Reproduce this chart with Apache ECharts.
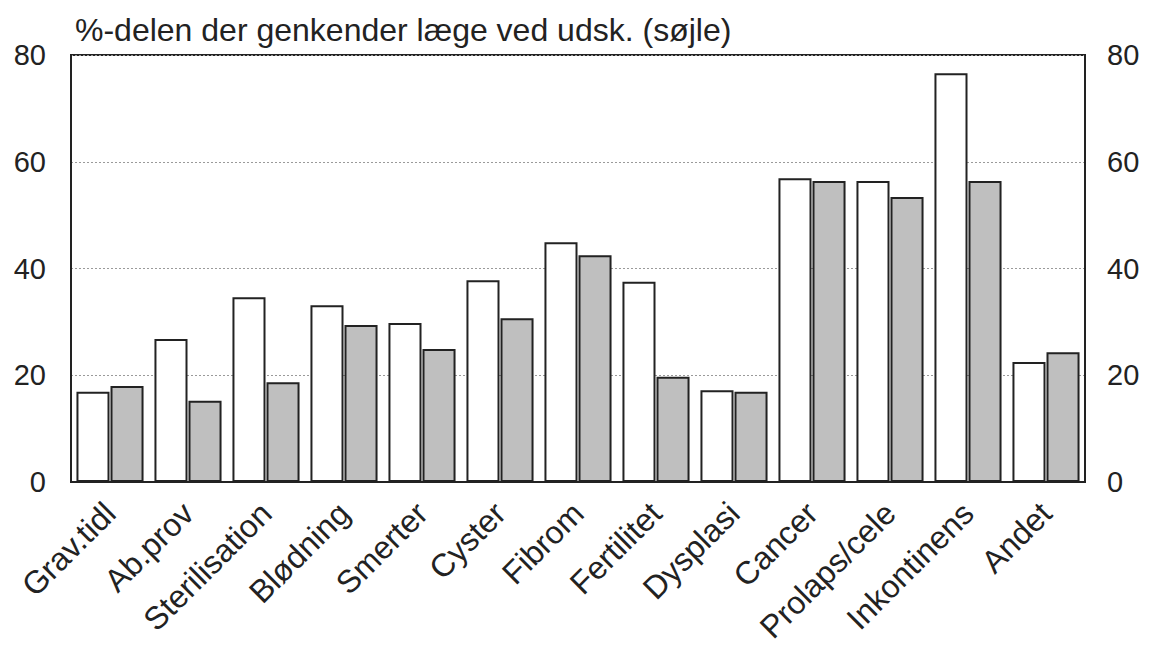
<!DOCTYPE html>
<html>
<head>
<meta charset="utf-8">
<script src="https://cdn.jsdelivr.net/npm/echarts@6/dist/echarts.min.js"></script>
<style>
  html, body { margin: 0; padding: 0; background: #ffffff; }
  #chart { width: 1150px; height: 652px; }
</style>
</head>
<body>
<div id="chart"></div>
<script>
var categories = ['Grav.tidl', 'Ab.prov', 'Sterilisation', 'Blødning', 'Smerter', 'Cyster', 'Fibrom', 'Fertilitet', 'Dysplasi', 'Cancer', 'Prolaps/cele', 'Inkontinens', 'Andet'];
var whiteValues = [16.9, 26.8, 34.6, 33.1, 29.8, 37.8, 44.9, 37.5, 17.2, 56.9, 56.4, 76.6, 22.5];
var grayValues = [18.0, 15.2, 18.7, 29.4, 24.9, 30.7, 42.5, 19.7, 16.9, 56.4, 53.4, 56.4, 24.3];
var yTicks = { min: 0, max: 80, interval: 20 };
var titleText = '%-delen der genkender læge ved udsk. (søjle)';

(function() {
  var ink = '#222222';
  var font = '"Liberation Sans", Arial, sans-serif';

  var chart = echarts.init(document.getElementById('chart'), null, { renderer: 'svg' });

  function valueAxis(pos) {
    return {
      type: 'value',
      position: pos,
      min: yTicks.min,
      max: yTicks.max,
      interval: yTicks.interval,
      axisLine: { show: true, lineStyle: { color: ink, width: 2 } },
      axisTick: { show: false },
      axisLabel: { color: ink, fontSize: 29, fontFamily: font, margin: pos === 'left' ? 25 : 22 },
      splitLine: pos === 'left'
        ? { show: true, lineStyle: { color: '#9a9a9a', width: 1, type: [2, 2] } }
        : { show: false }
    };
  }

  chart.setOption({
    animation: false,
    backgroundColor: '#ffffff',
    title: {
      text: titleText,
      left: 70,
      top: 9,
      textStyle: { color: ink, fontSize: 32, fontWeight: 'normal', fontFamily: font }
    },
    grid: {
      left: 71, right: 65, top: 55, bottom: 170,
      show: true, borderColor: ink, borderWidth: 2, backgroundColor: 'transparent'
    },
    xAxis: {
      type: 'category',
      data: categories,
      axisLine: { show: true, lineStyle: { color: ink, width: 2 } },
      axisTick: { show: false },
      axisLabel: { color: ink, fontSize: 32, fontFamily: font, rotate: 45, margin: 26, interval: 0, padding: [0, 0, 0, 0] }
    },
    yAxis: [valueAxis('left'), valueAxis('right')],
    series: [
      {
        name: 'white',
        type: 'bar',
        data: whiteValues,
        barCategoryGap: '14%',
        barGap: '3%',
        itemStyle: { color: '#ffffff', borderColor: ink, borderWidth: 2 }
      },
      {
        name: 'gray',
        type: 'bar',
        data: grayValues,
        barCategoryGap: '14%',
        barGap: '3%',
        itemStyle: { color: '#bfbfbf', borderColor: ink, borderWidth: 2 }
      }
    ]
  });
  window.addEventListener('resize', function() { chart.resize(); });
})();
</script>
</body>
</html>
